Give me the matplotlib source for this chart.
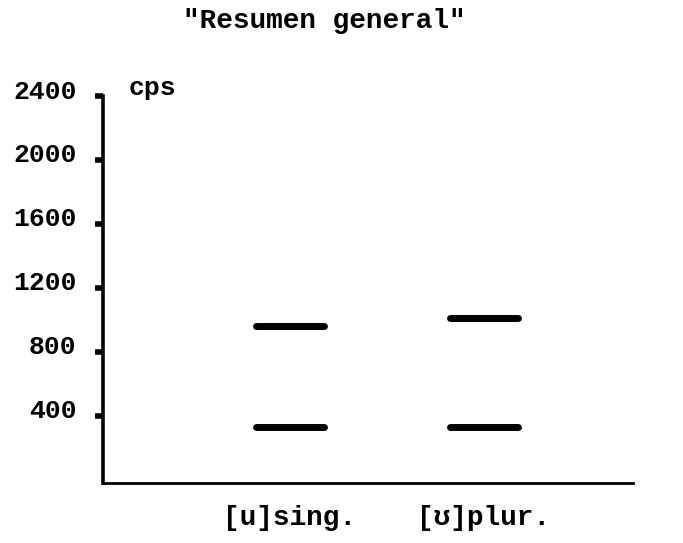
import matplotlib
matplotlib.use("Agg")
import matplotlib.pyplot as plt
import matplotlib.transforms as mtransforms

# Formant frequencies (cps) per vowel category
categories = ["[u]sing.", "[ʊ]plur."]
formant_1 = [330, 330]
formant_2 = [960, 1010]
y_ticks = [400, 800, 1200, 1600, 2000, 2400]
y_tick_labels = ["400", "800", "1200", "1600", "2000", "2400"]

FONT = ["Liberation Mono", "DejaVu Sans Mono"]
plt.rcParams["font.family"] = FONT
plt.rcParams["font.weight"] = "bold"

fig = plt.figure(figsize=(6.83, 5.43), dpi=100)
ax = fig.add_axes([0.1508, 0.1105, 0.776, 0.7127])

positions = [1, 2]
half = 0.175
for x, f1, f2 in zip(positions, formant_1, formant_2):
    for f in (f1, f2):
        ax.plot([x - half, x + half], [f, f], color="black", lw=5,
                solid_capstyle="round")

ax.set_xlim(0.036, 2.77)
ax.set_ylim(-20, 2400)

for side in ("top", "right"):
    ax.spines[side].set_visible(False)
ax.spines["left"].set_linewidth(2.6)
ax.spines["bottom"].set_linewidth(2.0)
ax.spines["left"].set_bounds(-20, 2400)

ax.set_xticks([])
ax.set_yticks(y_ticks)
ax.set_yticklabels(y_tick_labels, fontsize=19, fontweight="bold")
ax.tick_params(axis="y", direction="out", length=6, width=4, pad=13)

# typewritten numbers sit a little above their tick marks
offset = mtransforms.ScaledTranslation(0, 7 / 100, fig.dpi_scale_trans)
for lbl in ax.get_yticklabels():
    lbl.set_transform(lbl.get_transform() + offset)

fig.text(129 / 683, 1 - 88 / 543, "cps", fontsize=19, fontweight="bold",
         ha="left", va="center")

fig.text(324 / 683, 1 - 21 / 543, "\"Resumen general\"", fontsize=20,
         fontweight="bold", ha="center", va="center")

for x, name in zip(positions, categories):
    ax.text(x, -0.09, name, transform=ax.get_xaxis_transform(),
            fontsize=20, fontweight="bold", ha="center", va="center")

fig.savefig("out.png", dpi=100, facecolor="white")
